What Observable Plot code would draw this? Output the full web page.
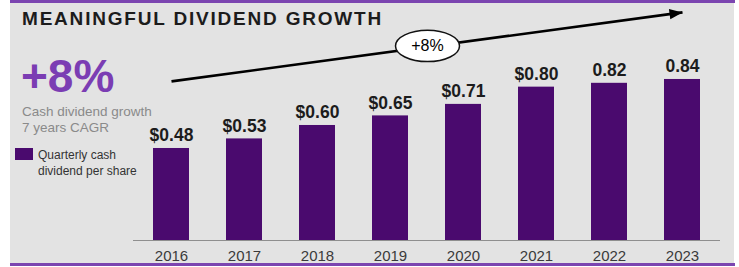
<!DOCTYPE html>
<html><head><meta charset="utf-8">
<script src="https://cdn.jsdelivr.net/npm/d3@7"></script>
<script src="https://cdn.jsdelivr.net/npm/@observablehq/plot@0.6"></script>
<style>
body{margin:0;background:#fff;font-family:"Liberation Sans",Arial,sans-serif;}
#wrap{position:relative;width:739px;height:267px;overflow:hidden}
#panel{position:absolute;left:10px;top:0;width:724px;height:263px;background:#e3e3e3}
#topbar{position:absolute;left:10px;top:0;width:725px;height:3px;background:#7b45b0}
#botbar{position:absolute;left:10px;top:263px;width:725px;height:3px;background:#7b45b0}
#chart{position:absolute;left:0;top:0}
.t{position:absolute;white-space:nowrap}
#title{left:22px;top:9px;font-weight:bold;font-size:19px;letter-spacing:1.8px;color:#1c1c1c;line-height:20px}
#big{left:21px;top:52px;font-weight:bold;font-size:46px;color:#7b3db3;line-height:48px}
#sub{left:22px;top:104px;font-size:13.5px;color:#8a8a8a;line-height:16px}
#legend{left:15px;top:148px}
#swatch{position:absolute;left:0;top:0;width:18px;height:12px;background:#4a0a6e}
#legtext{position:absolute;left:23px;top:0px;font-size:12px;color:#333;line-height:15.5px;white-space:nowrap}
</style></head>
<body>
<div id="wrap">
  <div id="panel"></div>
  <div id="topbar"></div>
  <div id="botbar"></div>
  <div id="chart"></div>
  <div class="t" id="title"></div>
  <div class="t" id="big"></div>
  <div class="t" id="sub"></div>
  <div class="t" id="legend"><div id="swatch"></div><div id="legtext"></div></div>
</div>
<script>
const years = ["2016","2017","2018","2019","2020","2021","2022","2023"];
const dividends = [0.48,0.53,0.60,0.65,0.71,0.80,0.82,0.84];
const valueLabels = ["$0.48","$0.53","$0.60","$0.65","$0.71","$0.80","0.82","0.84"];
const trendFrom = {year:"2016", value:0.83};
const trendTo = {year:"2023", value:1.19};
const cagrLabel = "+8%";
const cagrBubble = {year:"2019", value:1.015};
const titleText = "MEANINGFUL DIVIDEND GROWTH";
const subLines = ["Cash dividend growth","7 years CAGR"];
const legendLines = ["Quarterly  cash","dividend per share"];

document.getElementById("title").textContent = titleText;
document.getElementById("big").textContent = cagrLabel;
document.getElementById("sub").innerHTML = subLines.join("<br>");
document.getElementById("legtext").innerHTML = legendLines.join("<br>");

const data = years.map((y,i)=>({year:y, value:dividends[i], label:valueLabels[i]}));

const ellipseSymbol = {
  draw(ctx, size){
    const rx = Math.sqrt(size/Math.PI), ry = rx*0.49, k = 0.5523;
    ctx.moveTo(rx,0);
    ctx.bezierCurveTo(rx, ry*k, rx*k, ry, 0, ry);
    ctx.bezierCurveTo(-rx*k, ry, -rx, ry*k, -rx, 0);
    ctx.bezierCurveTo(-rx, -ry*k, -rx*k, -ry, 0, -ry);
    ctx.bezierCurveTo(rx*k, -ry, rx, -ry*k, rx, 0);
    ctx.closePath();
  }
};
// arrowhead: filled triangle pointing along +x, tip at origin
const headSymbol = {
  draw(ctx, size){
    const L = Math.sqrt(size/Math.PI)*2, W = L*0.4;
    ctx.moveTo(0,0);
    ctx.lineTo(-L,-W);
    ctx.lineTo(-L,W);
    ctx.closePath();
  }
};

const chart = Plot.plot({
  width:739, height:267,
  marginLeft:133, marginRight:19, marginTop:0, marginBottom:27,
  style:{background:"transparent", fontFamily:"Liberation Sans, Arial, sans-serif", color:"#333"},
  x:{domain:years, paddingInner:0.51, paddingOuter:0.26, label:null},
  y:{domain:[0,1.252], axis:null},
  marks:[
    Plot.barY(data,{x:"year", y:"value", fill:"#4a0a6e"}),
    Plot.ruleY([0],{stroke:"#8f8f8f", strokeWidth:1}),
    Plot.axisX({tickSize:0, tickPadding:10, fontSize:15, fill:"#3a3a3a", label:null}),
    Plot.text(data,{x:"year", y:"value", text:"label", lineAnchor:"bottom", dy:-7, fontSize:17.5, fontWeight:"bold", fill:"#1c1c1c"}),
    Plot.link([{a:trendFrom, b:trendTo}],{x1:d=>d.a.year, y1:d=>d.a.value, x2:d=>d.b.year, y2:d=>d.b.value, stroke:"#000", strokeWidth:2.6}),
    Plot.dot([trendTo],{x:"year", y:"value", r:6.5, symbol:headSymbol, rotate:-7.7, fill:"#000", stroke:"none"}),
    Plot.dot([cagrBubble],{x:"year", y:"value", dx:37, r:32, symbol:ellipseSymbol, fill:"#fff", stroke:"#111", strokeWidth:1.5}),
    Plot.text([cagrBubble],{x:"year", y:"value", dx:37, text:()=>cagrLabel, fontSize:16, fill:"#000"})
  ]
});
document.getElementById("chart").appendChild(chart);
</script>
</body></html>
